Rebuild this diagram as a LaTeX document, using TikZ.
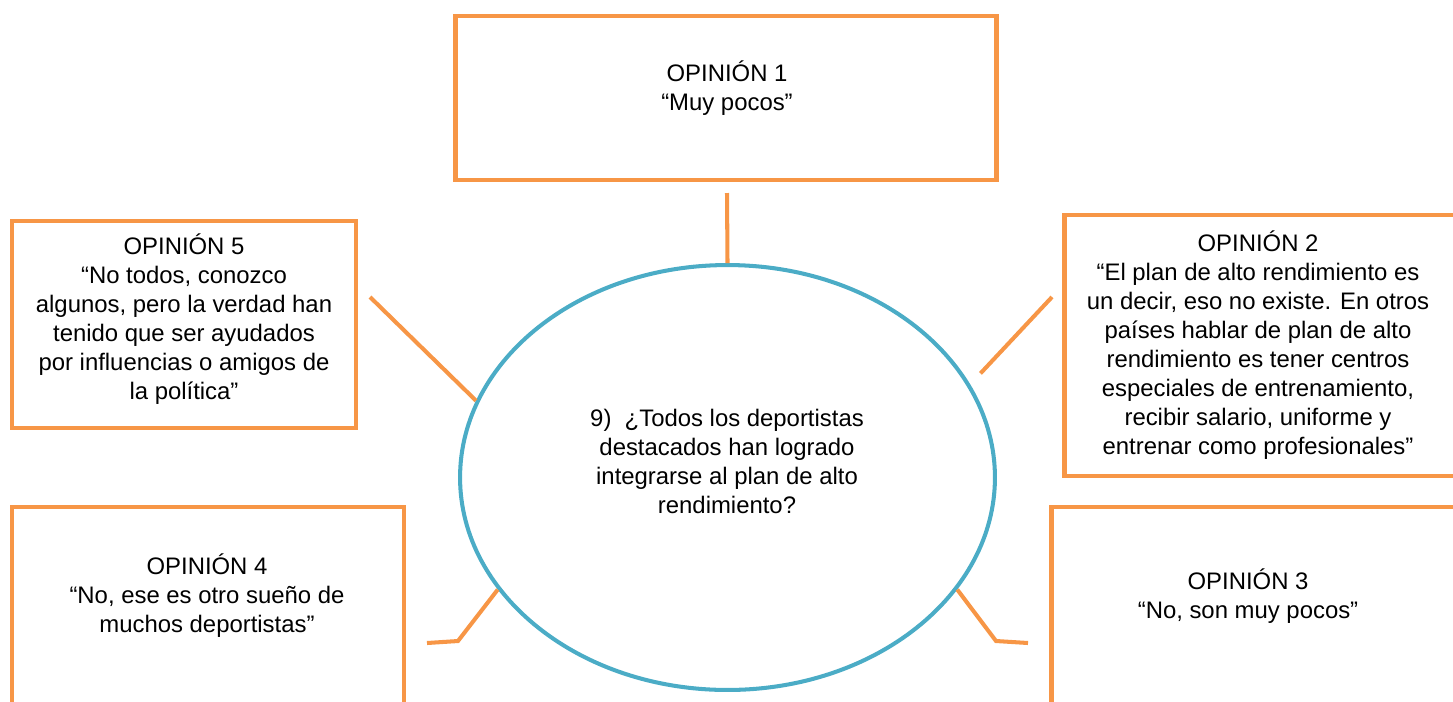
\documentclass[tikz,border=0pt]{standalone}
\usepackage{fontspec}
\setmainfont{Liberation Sans}
\usepackage{xcolor}
\usepackage{tikz}
\usetikzlibrary{shapes,positioning,calc}

\definecolor{opinionorange}{HTML}{F79646}
\definecolor{questionblue}{HTML}{4BACC6}

\begin{document}
\begin{tikzpicture}[
    x=0.02cm, y=-0.02cm,
    opinion/.style={rectangle, draw=opinionorange, line width=2.8pt, inner sep=0pt},
    question/.style={ellipse, draw=questionblue, line width=2.3pt, inner sep=0pt, minimum width=10.7cm, minimum height=8.5cm},
    txt/.style={align=center, font=\fontsize{13.6}{16.5}\selectfont},
    link/.style={draw=opinionorange, line width=2.3pt}
]
\useasboundingbox (0,0) rectangle (1453,701);
\clip (0,0) rectangle (1453,701);

% boxes
\node[opinion, minimum width=10.82cm, minimum height=3.28cm] (op1) at (726,98) {};
\node[opinion, minimum width=8.32cm, minimum height=5.22cm] (op2) at (1272,345.5) {};
\node[opinion, minimum width=8.58cm, minimum height=4.26cm] (op3) at (1265.5,613.5) {};
\node[opinion, minimum width=7.84cm, minimum height=4.26cm] (op4) at (208,613.5) {};
\node[opinion, minimum width=6.88cm, minimum height=4.14cm] (op5) at (184,324.5) {};
\node[question] (q) at (727.5,477.5) {};

% texts
\node[txt] (t1) at (727,88) {OPINIÓN 1\\“Muy pocos”};
\node[txt] (t2) at (1258,345) {OPINIÓN 2\\“El plan de alto rendimiento es\\un decir, eso no existe. En otros\\países hablar de plan de alto\\rendimiento es tener centros\\especiales de entrenamiento,\\recibir salario, uniforme y\\entrenar como profesionales”};
\node[txt] (t3) at (1248,596) {OPINIÓN 3\\“No, son muy pocos”};
\node[txt] (t4) at (207,596) {OPINIÓN 4\\“No, ese es otro sueño de\\muchos deportistas”};
\node[txt] (t5) at (184,319) {OPINIÓN 5\\“No todos, conozco\\algunos, pero la verdad han\\tenido que ser ayudados\\por influencias o amigos de\\la política”};
\node[txt] (tq) at (727,461) {9)~~¿Todos los deportistas\\destacados han logrado\\integrarse al plan de alto\\rendimiento?};

% connectors
\coordinate (c1) at (727,193);
\coordinate (c2) at (1052,297);
\coordinate (c3a) at (996,641);
\coordinate (c3b) at (1028,643);
\coordinate (c4a) at (458,641);
\coordinate (c4b) at (427,643);
\coordinate (c5) at (370,297);

\draw[link] (c1) -- (q.90);
\draw[link, shorten >=0.3cm] (c2) -- (q.21);
\draw[link] (q.334) -- (c3a) -- (c3b);
\draw[link] (q.206) -- (c4a) -- (c4b);
\draw[link] (c5) -- (q.163);

\end{tikzpicture}
\end{document}
